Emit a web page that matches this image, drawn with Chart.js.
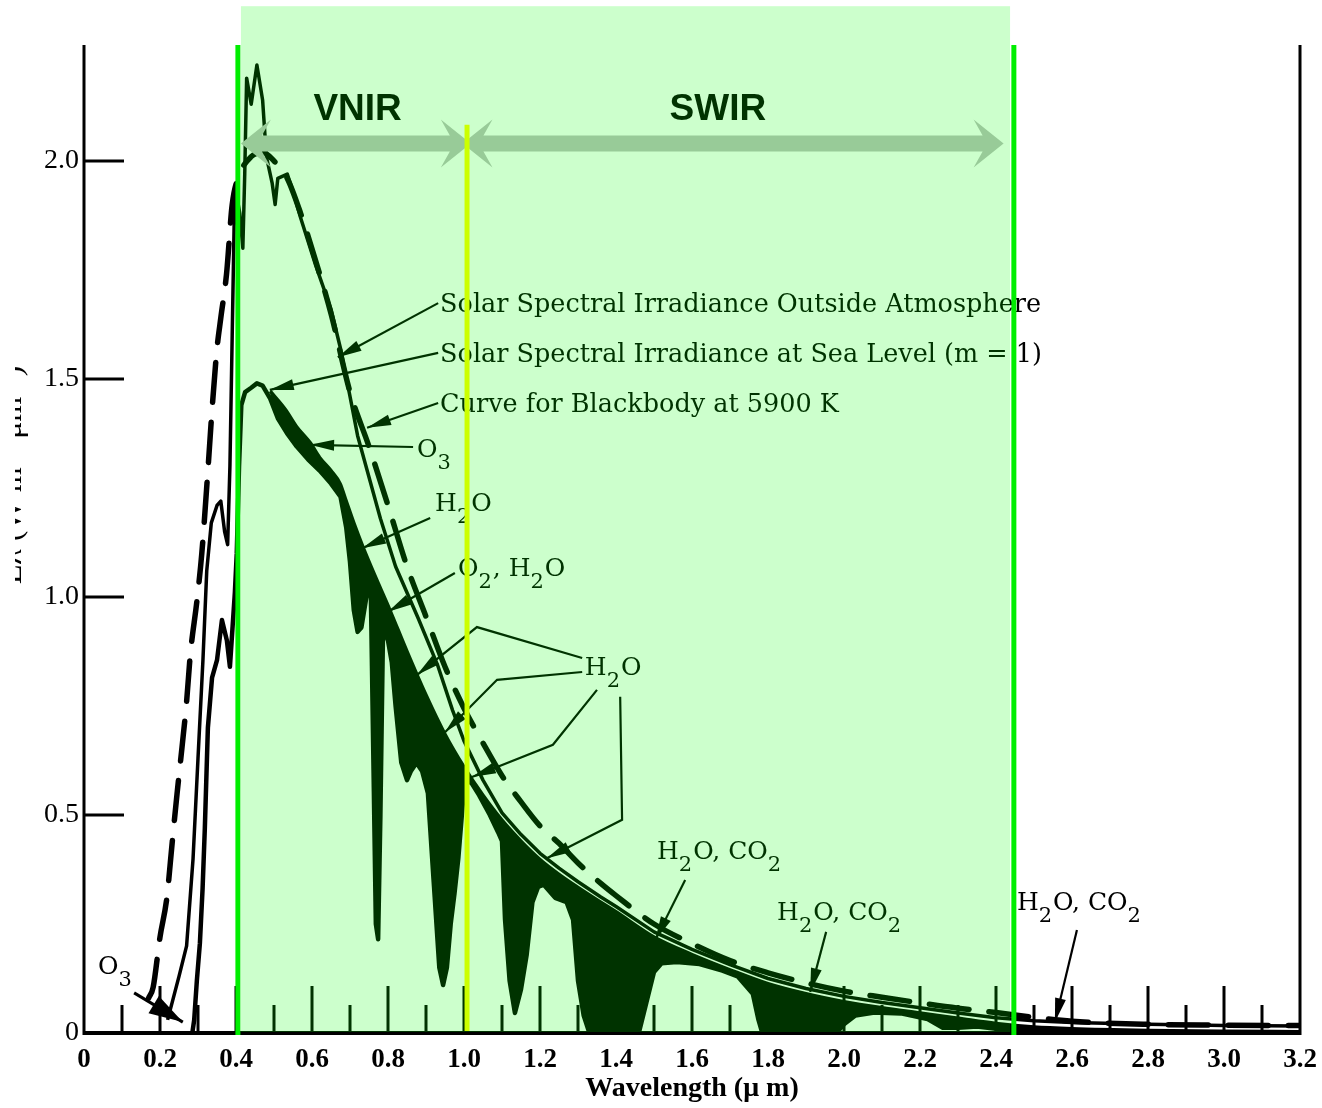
<!DOCTYPE html>
<html><head><meta charset="utf-8">
<script src="https://cdn.jsdelivr.net/npm/chart.js@4.4.1/dist/chart.umd.min.js"></script>
<style>html,body{margin:0;padding:0;background:#fff;}#wrap{width:1322px;height:1108px;position:relative;}</style>
</head><body><div id="wrap"><canvas id="c" width="1322" height="1108"></canvas></div>
<script>
// ---------- data (wavelength in µm, irradiance) ----------
const blackbodyWl = [0.17,0.182,0.2,0.218,0.232,0.245,0.258,0.27,0.28,0.297,0.31,0.326,0.337,0.35,0.36,0.375,0.39,0.41,0.44,0.47,0.5,0.535,0.57,0.61,0.65,0.7,0.75,0.8,0.85,0.9,0.95,1.0,1.05,1.1,1.15,1.2,1.25,1.3,1.36,1.4,1.5,1.6,1.7,1.8,1.9,2.0,2.1,2.2,2.3,2.4,2.5,2.6,2.8,3.0,3.2];
const blackbodyE  = [0.08,0.105,0.22,0.31,0.436,0.55,0.656,0.76,0.87,0.99,1.1,1.29,1.43,1.57,1.64,1.74,1.9,1.97,2.01,2.02,2.0,1.96,1.88,1.77,1.65,1.47,1.345,1.21,1.07,0.955,0.84,0.745,0.665,0.59,0.53,0.475,0.435,0.39,0.343,0.315,0.25,0.205,0.166,0.138,0.115,0.096,0.082,0.069,0.057,0.047,0.036,0.027,0.02,0.018,0.017];

const outsideWl = [0.22,0.235,0.25,0.27,0.287,0.3,0.313,0.323,0.335,0.35,0.36,0.37,0.378,0.384,0.39,0.395,0.4,0.41,0.418,0.423,0.428,0.44,0.455,0.47,0.48,0.495,0.503,0.51,0.535,0.55,0.57,0.61,0.65,0.675,0.7,0.72,0.78,0.82,0.88,0.93,0.97,1.0,1.05,1.1,1.15,1.2,1.25,1.3,1.36,1.4,1.5,1.6,1.7,1.8,1.9,2.0,2.1,2.2,2.3,2.4,2.5,2.6,2.8,3.0,3.2];
const outsideE  = [0.03,0.08,0.13,0.2,0.4,0.63,0.855,1.06,1.17,1.21,1.22,1.15,1.12,1.3,1.6,1.85,1.93,1.88,1.8,1.97,2.19,2.13,2.22,2.14,2.01,1.95,1.9,1.96,1.97,1.93,1.87,1.76,1.66,1.57,1.46,1.37,1.18,1.07,0.95,0.845,0.74,0.67,0.58,0.505,0.455,0.412,0.378,0.347,0.312,0.29,0.232,0.192,0.157,0.125,0.102,0.084,0.07,0.058,0.046,0.035,0.028,0.024,0.02,0.017,0.016];

const seaEnvelopeWl = [0.49,0.53,0.56,0.595,0.62,0.65,0.674,0.69,0.71,0.734,0.77,0.805,0.85,0.9,0.95,1.0,1.05,1.1,1.15,1.2,1.25,1.3,1.36,1.4,1.5,1.6,1.7,1.8,1.9,2.0,2.1,2.2,2.3,2.4,2.5,2.6,2.8,3.0,3.2];
const seaEnvelopeE  = [1.472,1.43,1.39,1.354,1.32,1.29,1.26,1.22,1.17,1.115,1.04,0.97,0.875,0.775,0.685,0.61,0.545,0.488,0.44,0.398,0.364,0.334,0.3,0.278,0.22,0.18,0.145,0.113,0.09,0.072,0.058,0.046,0.034,0.022,0.014,0.01,0.006,0.004,0.003];

const seaLevelWl = [0.285,0.29,0.297,0.305,0.312,0.318,0.326,0.337,0.35,0.363,0.376,0.384,0.397,0.402,0.408,0.414,0.424,0.44,0.455,0.47,0.49,0.51,0.534,0.56,0.59,0.62,0.65,0.675,0.69,0.7,0.71,0.72,0.73,0.745,0.755,0.762,0.768,0.774,0.78,0.787,0.8,0.81,0.82,0.835,0.85,0.86,0.875,0.89,0.905,0.92,0.935,0.945,0.955,0.965,0.975,0.985,1.0,1.015,1.04,1.068,1.09,1.1,1.108,1.12,1.134,1.15,1.165,1.18,1.195,1.21,1.24,1.27,1.287,1.3,1.315,1.33,1.46,1.48,1.5,1.52,1.56,1.62,1.68,1.72,1.76,1.775,1.785,1.98,2.0,2.03,2.08,2.15,2.22,2.26,2.3,2.35,2.4,2.45,2.5,3.2];
const seaLevelE  = [0,0.03,0.12,0.206,0.33,0.47,0.7,0.815,0.855,0.947,0.9,0.84,1.01,1.1,1.3,1.44,1.47,1.48,1.49,1.485,1.455,1.41,1.376,1.345,1.315,1.29,1.26,1.23,1.16,1.08,0.97,0.92,0.93,1.01,1.0,0.6,0.25,0.215,0.5,0.93,0.9,0.85,0.75,0.62,0.58,0.6,0.62,0.6,0.55,0.35,0.15,0.11,0.15,0.25,0.32,0.4,0.56,0.58,0.545,0.5,0.46,0.44,0.26,0.12,0.046,0.1,0.18,0.3,0.335,0.34,0.31,0.3,0.26,0.12,0.04,0,0,0.07,0.14,0.16,0.163,0.158,0.143,0.13,0.09,0.03,0,0,0.02,0.04,0.047,0.045,0.032,0.012,0.012,0.015,0.01,0.004,0,0];

const xTickValues = [0,0.2,0.4,0.6,0.8,1.0,1.2,1.4,1.6,1.8,2.0,2.2,2.4,2.6,2.8,3.0,3.2];
const xTickLabels = ['0','0.2','0.4','0.6','0.8','1.0','1.2','1.4','1.6','1.8','2.0','2.2','2.4','2.6','2.8','3.0','3.2'];
const xMinorTicks = [0.1,0.3,0.5,0.7,0.9,1.1,1.3,1.5,1.7,1.9,2.1,2.3,2.5,2.7,2.9,3.1];
const yTickValues = [0,0.5,1.0,1.5,2.0];
const yTickLabels = ['0','0.5','1.0','1.5','2.0'];

// spectral regions (µm)
const regionNames = ['VNIR','SWIR'];
const regionEdges = [0.405, 1.008, 2.447];

// ---------- annotations (data units) ----------
const H2O = [['H',0],['2',1],['O',0]];
const H2OCO2 = [['H',0],['2',1],['O, CO',0],['2',1]];
const O3 = [['O',0],['3',1]];
const noteTexts = [
  {x:0.937,y:1.654,parts:[['Solar Spectral Irradiance Outside Atmosphere',0]]},
  {x:0.937,y:1.539,parts:[['Solar Spectral Irradiance at Sea Level (m = 1)',0]]},
  {x:0.937,y:1.424,parts:[['Curve for Blackbody at 5900 K',0]]},
  {x:0.876,y:1.322,parts:O3},
  {x:0.924,y:1.197,parts:H2O},
  {x:0.984,y:1.047,parts:[['O',0],['2',1],[', H',0],['2',1],['O',0]]},
  {x:1.318,y:0.822,parts:H2O},
  {x:1.508,y:0.398,parts:H2OCO2},
  {x:1.824,y:0.26,parts:H2OCO2},
  {x:2.455,y:0.283,parts:H2OCO2},
  {x:0.037,y:0.136,parts:O3}
];
const leaders = [
  {pts:[[0.932,1.674],[0.668,1.55]],head:1},
  {pts:[[0.932,1.56],[0.489,1.475]],head:1},
  {pts:[[0.932,1.445],[0.745,1.388]],head:1},
  {pts:[[0.866,1.344],[0.595,1.349]],head:1},
  {pts:[[0.911,1.181],[0.732,1.112]],head:1},
  {pts:[[0.976,1.055],[0.8,0.966]],head:1},
  {pts:[[1.311,0.86],[1.034,0.931],[0.876,0.821]],head:1},
  {pts:[[1.311,0.828],[1.087,0.81],[0.95,0.69]],head:1},
  {pts:[[1.35,0.787],[1.234,0.661],[1.021,0.587]],head:1},
  {pts:[[1.411,0.771],[1.416,0.489],[1.218,0.401]],head:1},
  {pts:[[1.582,0.351],[1.503,0.213]],head:1},
  {pts:[[1.953,0.232],[1.911,0.094]],head:1},
  {pts:[[2.613,0.236],[2.555,0.025]],head:1},
  {pts:[[0.132,0.092],[0.26,0.025]],head:2}
];

const toPts = (xs, ys) => xs.map((v, i) => ({x: v, y: ys[i]}));

function arrowHead(ctx, x1, y1, x2, y2, len, half) {
  const a = Math.atan2(y2 - y1, x2 - x1);
  ctx.beginPath();
  ctx.moveTo(x2, y2);
  ctx.lineTo(x2 - len*Math.cos(a) + half*Math.sin(a), y2 - len*Math.sin(a) - half*Math.cos(a));
  ctx.lineTo(x2 - len*Math.cos(a) - half*Math.sin(a), y2 - len*Math.sin(a) + half*Math.cos(a));
  ctx.closePath();
  ctx.fill();
}
function fatArrow(ctx, xa, xb, yc) {
  const sh = 8, hl = 30, hh = 24, nt = 9;
  ctx.beginPath();
  ctx.moveTo(xa, yc);
  ctx.lineTo(xa + hl, yc - hh);
  ctx.lineTo(xa + hl - nt, yc - sh);
  ctx.lineTo(xb - hl + nt, yc - sh);
  ctx.lineTo(xb - hl, yc - hh);
  ctx.lineTo(xb, yc);
  ctx.lineTo(xb - hl, yc + hh);
  ctx.lineTo(xb - hl + nt, yc + sh);
  ctx.lineTo(xa + hl - nt, yc + sh);
  ctx.lineTo(xa + hl, yc + hh);
  ctx.closePath();
  ctx.fill();
}

const decor = {
  id: 'decor',
  afterDatasetsDraw(chart) {
    const {ctx, chartArea: ca, scales: {x, y}} = chart;
    const X = v => x.getPixelForValue(v), Y = v => y.getPixelForValue(v);
    ctx.save();
    ctx.strokeStyle = '#000'; ctx.fillStyle = '#000';
    // inner ticks
    ctx.lineWidth = 3;
    xMinorTicks.forEach(v => { ctx.beginPath(); ctx.moveTo(X(v), ca.bottom); ctx.lineTo(X(v), ca.bottom - 28); ctx.stroke(); });
    xTickValues.forEach(v => { if (v === 0 || v === 3.2) return; ctx.beginPath(); ctx.moveTo(X(v), ca.bottom); ctx.lineTo(X(v), ca.bottom - 47); ctx.stroke(); });
    yTickValues.forEach(v => { if (v === 0) return; ctx.beginPath(); ctx.moveTo(ca.left, Y(v)); ctx.lineTo(ca.left + 40, Y(v)); ctx.stroke(); });
    // frame
    ctx.beginPath(); ctx.moveTo(ca.left, ca.top); ctx.lineTo(ca.left, ca.bottom + 2); ctx.stroke();
    ctx.beginPath(); ctx.moveTo(ca.right, ca.top); ctx.lineTo(ca.right, ca.bottom + 2); ctx.stroke();
    ctx.lineWidth = 4;
    ctx.beginPath(); ctx.moveTo(ca.left, ca.bottom); ctx.lineTo(ca.right, ca.bottom); ctx.stroke();

    // cropped y-axis title
    ctx.save();
    ctx.beginPath(); ctx.rect(15, 0, 60, 1108); ctx.clip();
    ctx.translate(21, Y(1.28)); ctx.rotate(-Math.PI / 2);
    ctx.font = '32px "Liberation Serif"'; ctx.textAlign = 'center'; ctx.textBaseline = 'alphabetic';
    ctx.fillText('Eλ (W m⁻² μm⁻¹)', 0, 0);
    ctx.restore();

    // annotation texts
    ctx.textAlign = 'left'; ctx.textBaseline = 'alphabetic';
    noteTexts.forEach(n => {
      let px = X(n.x); const py = Y(n.y);
      const big = n.parts.length === 1;
      n.parts.forEach(([t, sub]) => {
        ctx.font = sub ? '21px "DejaVu Serif"' : (big ? '25.5px "DejaVu Serif"' : '25px "DejaVu Serif"');
        ctx.fillText(t, px, py + (sub ? 12 : 0));
        px += ctx.measureText(t).width + (sub ? 1 : 0);
      });
    });
    // leader lines
    ctx.lineJoin = 'miter';
    leaders.forEach(l => {
      const p = l.pts.map(([a, b]) => [X(a), Y(b)]);
      ctx.beginPath(); ctx.moveTo(p[0][0], p[0][1]);
      for (let i = 1; i < p.length; i++) ctx.lineTo(p[i][0], p[i][1]);
      ctx.lineWidth = l.head === 2 ? 3 : 2.2;
      ctx.stroke();
      const a = p[p.length - 2], b = p[p.length - 1];
      if (l.head === 2) arrowHead(ctx, a[0], a[1], b[0], b[1], 34, 10);
      else arrowHead(ctx, a[0], a[1], b[0], b[1], 24, 5.5);
    });

    // region arrows + names (drawn under the tint)
    const ay = Y(2.04);
    ctx.fillStyle = '#bfbfbf';
    fatArrow(ctx, X(regionEdges[0] + 0.008), X(regionEdges[1] + 0.01), ay);
    fatArrow(ctx, X(regionEdges[1] - 0.012), X(2.42), ay);
    ctx.fillStyle = '#000';
    ctx.font = 'bold 37px "Liberation Sans"'; ctx.textAlign = 'center';
    ctx.fillText(regionNames[0], X(0.72), Y(2.094));
    ctx.fillText(regionNames[1], X(1.668), Y(2.094));

    // translucent green band
    ctx.fillStyle = 'rgba(0,255,0,0.2)';
    const sx0 = X(0.413), sx1 = X(2.437), sy0 = Y(2.355), sy1 = Y(0) - 1;
    ctx.fillRect(sx0, sy0, sx1 - sx0, sy1 - sy0);

    // boundary lines
    ctx.lineWidth = 5;
    ctx.strokeStyle = '#00ee00';
    [regionEdges[0], regionEdges[2]].forEach(v => { ctx.beginPath(); ctx.moveTo(X(v), ca.top); ctx.lineTo(X(v), ca.bottom + 2); ctx.stroke(); });
    ctx.strokeStyle = '#ccff00';
    ctx.beginPath(); ctx.moveTo(X(regionEdges[1]), Y(2.083)); ctx.lineTo(X(regionEdges[1]), ca.bottom - 2); ctx.stroke();
    ctx.restore();
  }
};

new Chart(document.getElementById('c'), {
  type: 'line',
  data: {
    datasets: [
      {label: 'Curve for Blackbody at 5900 K', data: toPts(blackbodyWl, blackbodyE), borderColor: '#000', borderWidth: 5.5, borderDash: [40, 20], borderCapStyle: 'round', fill: false, cubicInterpolationMode: 'monotone', order: 1},
      {label: 'Solar Spectral Irradiance Outside Atmosphere', data: toPts(outsideWl, outsideE), borderColor: '#000', borderWidth: 3.5, fill: false, tension: 0, order: 2},
      {label: 'Solar Spectral Irradiance at Sea Level (m = 1)', data: toPts(seaLevelWl, seaLevelE), borderColor: '#000', borderWidth: 4.5, backgroundColor: '#ffffff', fill: 'origin', tension: 0, order: 5},
      {label: 'Sea level without absorption', data: toPts(seaEnvelopeWl, seaEnvelopeE), borderColor: '#000', borderWidth: 3.5, backgroundColor: '#000000', fill: 'origin', cubicInterpolationMode: 'monotone', order: 6}
    ]
  },
  options: {
    responsive: false, animation: false, devicePixelRatio: 1,
    layout: {padding: {left: 0, right: 22, top: 45, bottom: 0}},
    elements: {point: {radius: 0, hoverRadius: 0}, line: {borderJoinStyle: 'round'}},
    plugins: {legend: {display: false}, tooltip: {enabled: false}},
    scales: {
      x: {
        type: 'linear', min: 0, max: 3.2,
        afterBuildTicks: s => { s.ticks = xTickValues.map(v => ({value: v})); },
        afterFit: s => { s.height = 75; s.paddingLeft = 0; s.paddingRight = 0; },
        grid: {display: false, drawTicks: false}, border: {display: false},
        ticks: {autoSkip: false, maxRotation: 0, padding: 11, color: '#000',
          font: {family: 'Liberation Serif', size: 27, weight: 'bold'},
          callback: (v, i) => xTickLabels[i]},
        title: {display: true, text: 'Wavelength (μ m)', color: '#000',
          font: {family: 'Liberation Serif', size: 28, weight: 'bold'}, padding: {top: 0, bottom: 2}}
      },
      y: {
        type: 'linear', min: 0, max: 2.266,
        afterBuildTicks: s => { s.ticks = yTickValues.map(v => ({value: v})); },
        afterFit: s => { s.width = 84; s.paddingTop = 0; s.paddingBottom = 0; },
        grid: {display: false, drawTicks: false}, border: {display: false},
        ticks: {padding: 5, color: '#000', font: {family: 'Liberation Serif', size: 28},
          callback: (v, i) => yTickLabels[i]}
      }
    }
  },
  plugins: [decor]
});
</script></body></html>
